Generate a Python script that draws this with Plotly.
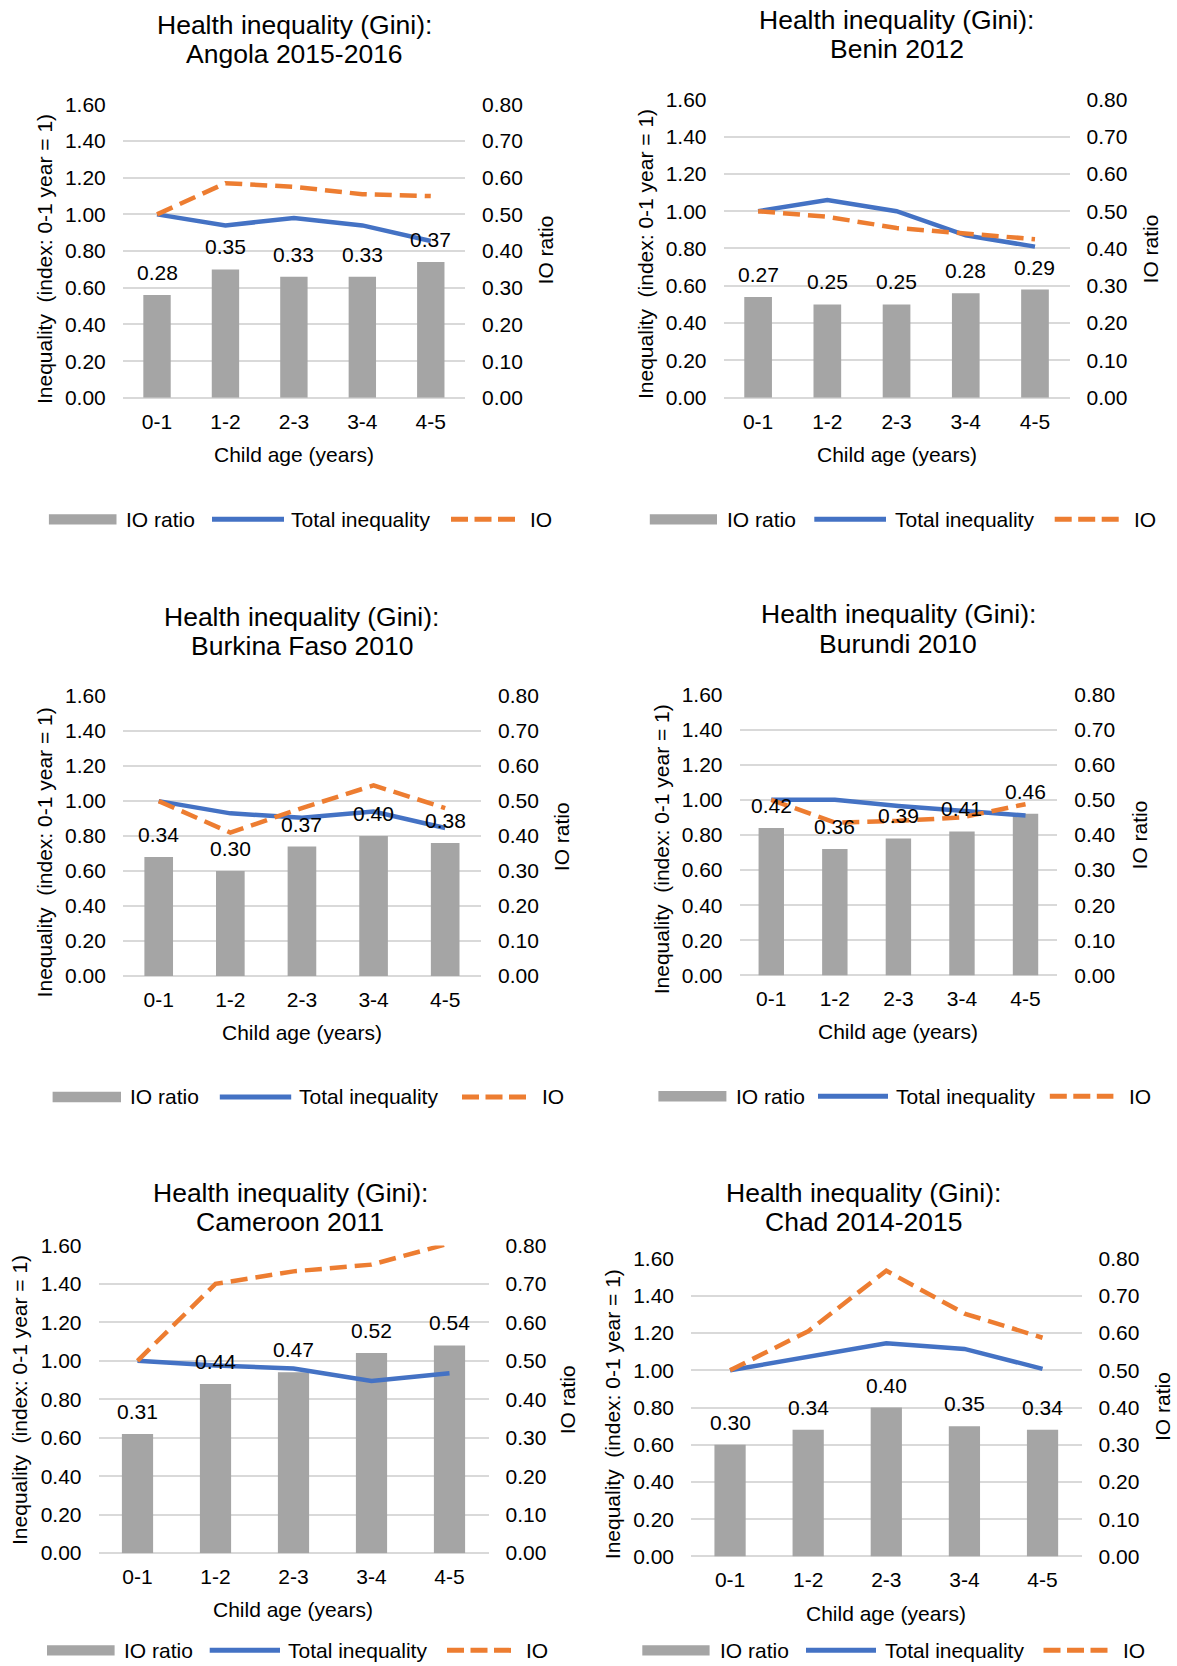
import plotly.graph_objects as go

W, H = 1177, 1666
FONT = "Liberation Sans, Arial, Helvetica, sans-serif"

# ---------------- data ----------------
categories = ["0-1", "1-2", "2-3", "3-4", "4-5"]
countries = ["Angola 2015-2016", "Benin 2012", "Burkina Faso 2010",
             "Burundi 2010", "Cameroon 2011", "Chad 2014-2015"]

io_ratio_angola = [0.28, 0.35, 0.33, 0.33, 0.37]
total_angola = [1.00, 0.94, 0.98, 0.94, 0.855]
io_angola = [1.00, 1.17, 1.15, 1.11, 1.10]

io_ratio_benin = [0.27, 0.25, 0.25, 0.28, 0.29]
total_benin = [1.00, 1.06, 1.00, 0.87, 0.81]
io_benin = [1.00, 0.97, 0.91, 0.88, 0.85]

io_ratio_burkina = [0.34, 0.30, 0.37, 0.40, 0.38]
total_burkina = [1.00, 0.93, 0.905, 0.94, 0.846]
io_burkina = [1.00, 0.82, 0.96, 1.09, 0.96]

io_ratio_burundi = [0.42, 0.36, 0.39, 0.41, 0.46]
total_burundi = [1.00, 1.00, 0.965, 0.94, 0.91]
io_burundi = [1.00, 0.87, 0.88, 0.90, 0.975]

io_ratio_cameroon = [0.31, 0.44, 0.47, 0.52, 0.54]
total_cameroon = [1.00, 0.975, 0.96, 0.895, 0.935]
io_cameroon = [1.00, 1.40, 1.465, 1.50, 1.61]

io_ratio_chad = [0.30, 0.34, 0.40, 0.35, 0.34]
total_chad = [1.00, 1.07, 1.145, 1.115, 1.008]
io_chad = [1.00, 1.21, 1.535, 1.305, 1.175]

io_ratio_all = [io_ratio_angola, io_ratio_benin, io_ratio_burkina,
                io_ratio_burundi, io_ratio_cameroon, io_ratio_chad]
total_all = [total_angola, total_benin, total_burkina,
             total_burundi, total_cameroon, total_chad]
io_all = [io_angola, io_benin, io_burkina, io_burundi, io_cameroon, io_chad]

title_prefix = "Health inequality (Gini):"
left_title = "Inequality\u00a0 (index: 0-1 year = 1)"
right_title = "IO ratio"
x_title = "Child age (years)"
legend_labels = ["IO ratio", "Total inequality", "IO"]

# ---------------- geometry (pixels, as seen on the page) ----------------
geom = [
    dict(box=(122.8, 465.0, 101.0, 395.7), t=(294.0, 24.1, 53.3), yt=(44.3, 256.0),
         rt=(545.0, 247.7), xt=(294.0, 454.8), ly=517.7,
         leg=(48.9, 116.5, 124.0, 212.0, 284.0, 289.4, 451.0, 515.0, 528.0)),
    dict(box=(723.5, 1069.6, 96.0, 395.5), t=(896.5, 18.9, 48.2), yt=(645.3, 251.0),
         rt=(1150.7, 246.0), xt=(896.5, 454.8), ly=517.7,
         leg=(649.8, 717.0, 725.3, 814.3, 886.0, 892.8, 1054.7, 1119.0, 1132.0)),
    dict(box=(122.9, 481.0, 695.2, 976.3), t=(301.8, 617.8, 647.0), yt=(44.3, 851.8),
         rt=(561.8, 836.0), xt=(301.8, 1034.8), ly=1097.7,
         leg=(52.6, 121.0, 127.8, 219.8, 291.2, 296.9, 462.0, 526.0, 540.0)),
    dict(box=(739.5, 1057.3, 693.5, 975.6), t=(898.4, 615.4, 645.4), yt=(661.0, 849.0),
         rt=(1139.5, 834.6), xt=(898.4, 1034.0), ly=1097.0,
         leg=(658.4, 726.4, 734.0, 818.0, 888.0, 893.6, 1049.8, 1113.4, 1127.0)),
    dict(box=(98.5, 488.5, 1246.7, 1555.7), t=(290.0, 1196.7, 1225.7), yt=(19.5, 1402.4),
         rt=(567.5, 1401.7), xt=(293.1, 1614.0), ly=1653.3,
         leg=(47.0, 114.6, 122.0, 209.7, 280.0, 286.4, 447.0, 511.0, 524.0)),
    dict(box=(691.0, 1081.6, 1260.0, 1559.0), t=(863.8, 1196.7, 1225.7), yt=(612.4, 1415.8),
         rt=(1162.0, 1409.0), xt=(886.4, 1618.3), ly=1653.3,
         leg=(642.3, 709.6, 717.9, 806.0, 876.0, 882.7, 1043.5, 1107.8, 1120.8)),
]

BAR_COLOR = "#A5A5A5"
BLUE = "#4472C4"
ORANGE = "#ED7D31"
GRID = "#D9D9D9"
TXT = "#000000"

# page offset/scale observed for the captured page (vertical only)
Y_OFF, Y_SCALE = 8.3, 0.9902
TEXT_LIFT = 2.5  # glyph centre vs annotation box centre for text with descenders


def px(x):
    return x / W


def py(y):
    yf = (y - Y_OFF) / Y_SCALE
    return 1 - yf / H


fig = go.Figure()
layout = dict(
    width=W, height=H, margin=dict(l=0, r=0, t=0, b=0),
    paper_bgcolor="white", plot_bgcolor="white",
    showlegend=False, bargap=0.6,
    font=dict(family=FONT, size=21, color=TXT),
)
annotations = []
shapes = []

for k in range(6):
    i = k + 1
    g = geom[k]
    x0, x1, y0, y1 = g["box"]
    xname = "x" if i == 1 else f"x{i}"
    xkey = "xaxis" if i == 1 else f"xaxis{i}"
    nb = 2 * k + 1
    nl = 2 * k + 2
    ybname = "y" if nb == 1 else f"y{nb}"
    ybkey = "yaxis" if nb == 1 else f"yaxis{nb}"
    ylname = f"y{nl}"
    ylkey = f"yaxis{nl}"

    layout[xkey] = dict(domain=[px(x0), px(x1)], anchor=ybname, type="category",
                        range=[-0.5, 4.5], showgrid=False, zeroline=False,
                        showline=False, ticks="", ticklabelstandoff=9,
                        tickfont=dict(size=21, color=TXT), fixedrange=True)
    layout[ybkey] = dict(domain=[py(y1), py(y0)], anchor=xname, side="right",
                         range=[0, 0.8], tick0=0, dtick=0.1, tickformat=".2f",
                         showgrid=True, gridcolor=GRID, gridwidth=1.5,
                         zeroline=True, zerolinecolor=GRID, zerolinewidth=1.5,
                         showline=False, ticks="", ticklabelstandoff=16,
                         tickfont=dict(size=21, color=TXT), fixedrange=True)
    layout[ylkey] = dict(overlaying=ybname, anchor=xname, side="left",
                         range=[0, 1.6], tick0=0, dtick=0.2, tickformat=".2f",
                         showgrid=False, zeroline=False, showline=False,
                         ticks="", ticklabelstandoff=16,
                         tickfont=dict(size=21, color=TXT), fixedrange=True)

    fig.add_trace(go.Bar(x=categories, y=io_ratio_all[k], xaxis=xname, yaxis=ybname,
                         marker=dict(color=BAR_COLOR, line=dict(width=0)),
                         name=legend_labels[0], showlegend=False))
    fig.add_trace(go.Scatter(x=categories, y=total_all[k], xaxis=xname, yaxis=ylname,
                             mode="lines", line=dict(color=BLUE, width=4.5),
                             name=legend_labels[1], showlegend=False))
    fig.add_trace(go.Scatter(x=categories, y=io_all[k], xaxis=xname, yaxis=ylname,
                             mode="lines",
                             line=dict(color=ORANGE, width=4.5, dash="17px,8px"),
                             name=legend_labels[2], showlegend=False))

    # data labels on bars
    for c, v in zip(categories, io_ratio_all[k]):
        annotations.append(dict(x=c, y=v, xref=xname, yref=ybname, text=f"{v:.2f}",
                                showarrow=False, yanchor="bottom", xanchor="center",
                                yshift=9, font=dict(size=21, color=TXT)))

    # titles
    tx, ty1, ty2 = g["t"]
    annotations.append(dict(x=px(tx), y=py(ty1 - TEXT_LIFT), xref="paper", yref="paper",
                            text=title_prefix, showarrow=False, xanchor="center",
                            yanchor="middle", font=dict(size=26.5, color=TXT)))
    annotations.append(dict(x=px(tx), y=py(ty2 - TEXT_LIFT), xref="paper", yref="paper",
                            text=countries[k], showarrow=False, xanchor="center",
                            yanchor="middle", font=dict(size=26.5, color=TXT)))
    # axis titles
    annotations.append(dict(x=px(g["yt"][0]), y=py(g["yt"][1]), xref="paper", yref="paper",
                            text=left_title, textangle=-90, showarrow=False,
                            xanchor="center", yanchor="middle",
                            font=dict(size=21, color=TXT)))
    annotations.append(dict(x=px(g["rt"][0]), y=py(g["rt"][1]), xref="paper", yref="paper",
                            text=right_title, textangle=-90, showarrow=False,
                            xanchor="center", yanchor="middle",
                            font=dict(size=21, color=TXT)))
    annotations.append(dict(x=px(g["xt"][0]), y=py(g["xt"][1] - 2), xref="paper", yref="paper",
                            text=x_title, showarrow=False,
                            xanchor="center", yanchor="middle",
                            font=dict(size=21, color=TXT)))

    # legend (drawn per panel, like the separate chart legends)
    ly = g["ly"]
    bx0, bx1, bt, lx0, lx1, lt, ox0, ox1, ot = g["leg"]
    shapes.append(dict(type="rect", xref="paper", yref="paper",
                       x0=px(bx0), x1=px(bx1), y0=py(ly + 5.2), y1=py(ly - 5.2),
                       fillcolor=BAR_COLOR, line=dict(width=0)))
    shapes.append(dict(type="line", xref="paper", yref="paper",
                       x0=px(lx0), x1=px(lx1), y0=py(ly), y1=py(ly),
                       line=dict(color=BLUE, width=5)))
    shapes.append(dict(type="line", xref="paper", yref="paper",
                       x0=px(ox0), x1=px(ox1), y0=py(ly), y1=py(ly),
                       line=dict(color=ORANGE, width=5, dash="17px,6.5px")))
    for tx_, lab in zip((bt, lt, ot), legend_labels):
        annotations.append(dict(x=px(tx_), y=py(ly), xref="paper", yref="paper",
                                text=lab, showarrow=False, xanchor="left",
                                yanchor="middle", font=dict(size=21, color=TXT)))

layout["annotations"] = annotations
layout["shapes"] = shapes
fig.update_layout(**layout)

fig.write_html("out.html", config={"displayModeBar": False},
               post_script="document.body.style.margin='0';")
